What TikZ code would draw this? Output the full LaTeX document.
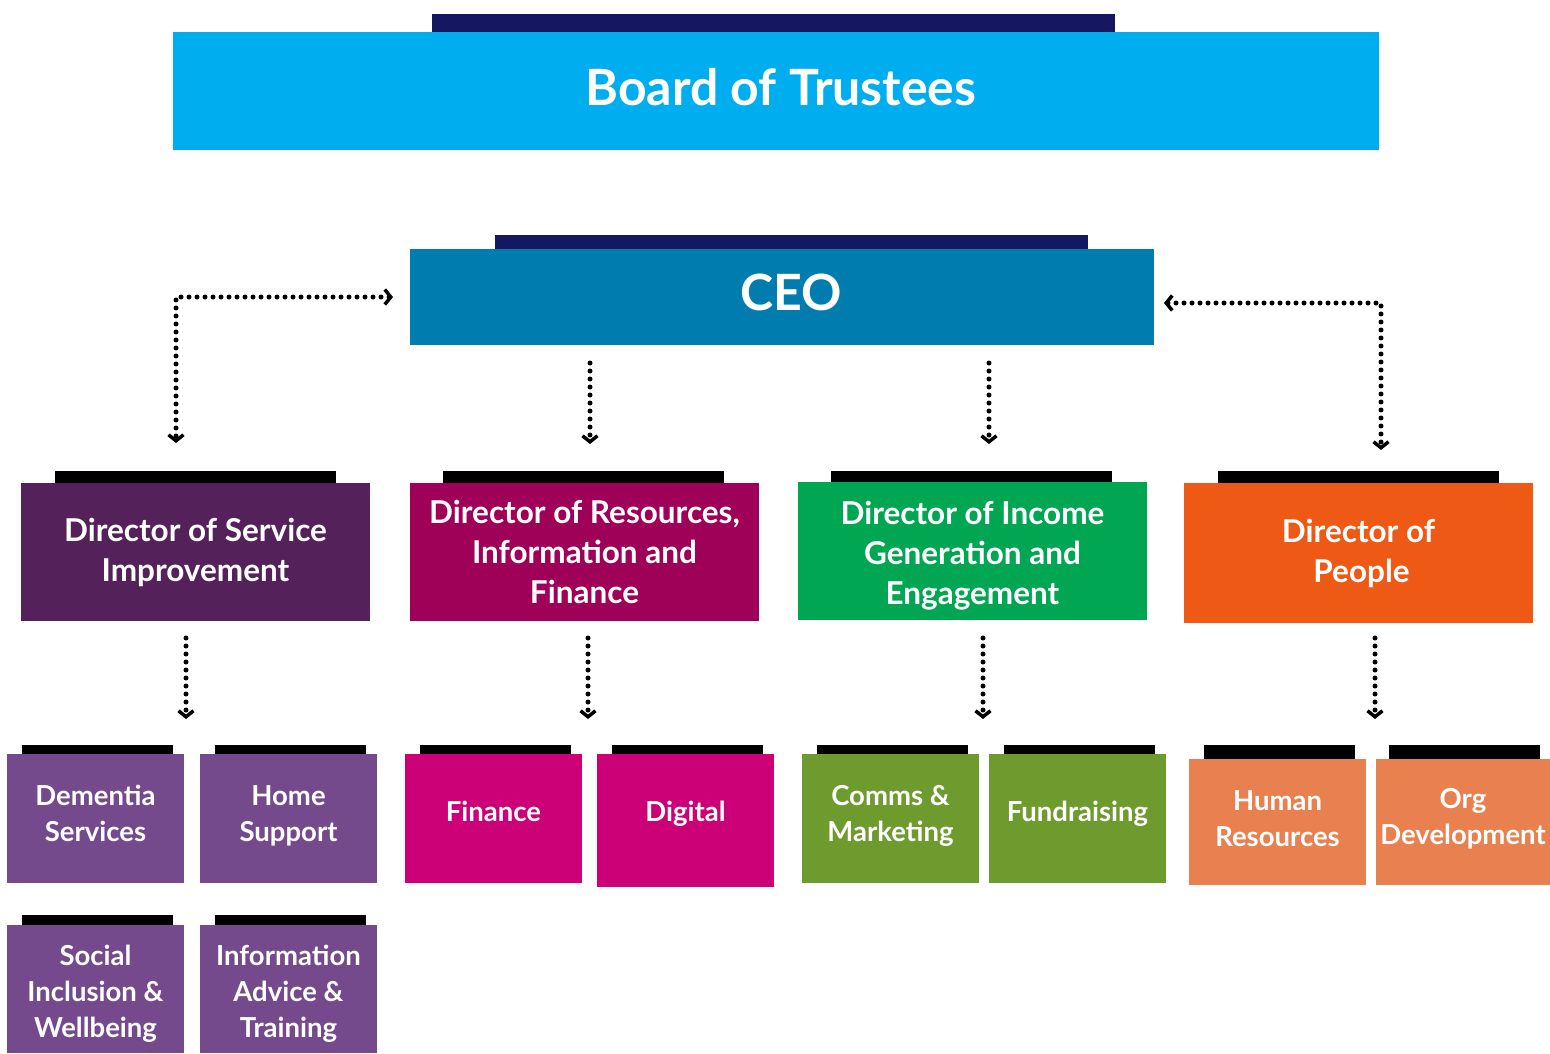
\documentclass[tikz,border=0pt]{standalone}
\usepackage{fontspec}
\setmainfont{Lato}
\usetikzlibrary{arrows.meta}
\definecolor{navy}{HTML}{151860}
\definecolor{boardc}{HTML}{00AEEF}
\definecolor{ceoc}{HTML}{007DAE}
\definecolor{dpurple}{HTML}{55215B}
\definecolor{dmagenta}{HTML}{9F0058}
\definecolor{dgreen}{HTML}{00A651}
\definecolor{dorange}{HTML}{EE5A16}
\definecolor{spurple}{HTML}{744A8C}
\definecolor{smagenta}{HTML}{CC0077}
\definecolor{sgreen}{HTML}{6E9B2E}
\definecolor{sorange}{HTML}{E8804F}
\newcommand\mydepth[1]{\rule[-#1]{0pt}{#1}}
\newcommand\myheight[1]{\rule{0pt}{#1}}
\begin{document}
\begin{tikzpicture}[x=1pt,y=-1pt,
  rect/.style={anchor=north west, inner sep=0pt, outer sep=0pt, draw=none, text=white, align=center},
  barbox/.style={rect, fill=#1},
  titlefont/.style={font=\bfseries\fontsize{50}{56}\selectfont},
  dirfont/.style={font=\bfseries\fontsize{31.5}{40}\selectfont},
  subfont/.style={font=\bfseries\fontsize{27.5}{36}\selectfont},
  barb/.tip={Straight Barb[length=6pt,width=15pt,line width=3.5pt]},
  dots/.style={line width=5pt, dash pattern=on 0pt off 8pt, line cap=round, black, barb-barb},
  dotd/.style={line width=5pt, dash pattern=on 0pt off 8pt, line cap=round, black, -barb}
]
\useasboundingbox (0,0) rectangle (1550,1053);
% Board
\node[barbox=navy, minimum width=683pt, minimum height=19pt] (boardbar) at (432,14) {};
\node[barbox=boardc, minimum width=1206pt, minimum height=118pt, titlefont] (board) at (173,32) {\hspace*{10pt}Board of Trustees\mydepth{8pt}};
% CEO
\node[barbox=navy, minimum width=593pt, minimum height=15pt] (ceobar) at (495,235) {};
\node[barbox=ceoc, minimum width=744pt, minimum height=96pt, titlefont] (ceo) at (410,249) {\hspace*{18pt}CEO\mydepth{10pt}};
% Directors
\node[barbox=black, minimum width=281pt, minimum height=13pt] (d1bar) at (55,471) {};
\node[barbox=dpurple, minimum width=349pt, minimum height=138pt, dirfont] (d1) at (21,483) {Director of Service\\Improvement};
\node[barbox=black, minimum width=281pt, minimum height=13pt] (d2bar) at (443,471) {};
\node[barbox=dmagenta, minimum width=349pt, minimum height=138pt, dirfont] (d2) at (410,483) {Director of Resources,\\Information and\\Finance};
\node[barbox=black, minimum width=281pt, minimum height=12pt] (d3bar) at (831,471) {};
\node[barbox=dgreen, minimum width=349pt, minimum height=138pt, dirfont] (d3) at (798,482) {\myheight{32pt}Director of Income\\Generation and\\Engagement};
\node[barbox=black, minimum width=281pt, minimum height=13pt] (d4bar) at (1218,471) {};
\node[barbox=dorange, minimum width=349pt, minimum height=140pt, dirfont] (d4) at (1184,483) {Director of\\\hspace*{6pt}People};
% Sub units row 1
\node[barbox=black, minimum width=151pt, minimum height=10pt] (s1bar) at (22,745) {};
\node[barbox=spurple, minimum width=177pt, minimum height=129pt, subfont] (s1) at (7,754) {Dementia\\Services\mydepth{10pt}};
\node[barbox=black, minimum width=151pt, minimum height=10pt] (s2bar) at (215,745) {};
\node[barbox=spurple, minimum width=177pt, minimum height=129pt, subfont] (s2) at (200,754) {Home\\Support\mydepth{10pt}};
\node[barbox=black, minimum width=151pt, minimum height=10pt] (s3bar) at (420,745) {};
\node[barbox=smagenta, minimum width=177pt, minimum height=129pt, subfont] (s3) at (405,754) {Finance\mydepth{14pt}};
\node[barbox=black, minimum width=151pt, minimum height=10pt] (s4bar) at (612,745) {};
\node[barbox=smagenta, minimum width=177pt, minimum height=133pt, subfont] (s4) at (597,754) {Digital\mydepth{19pt}};
\node[barbox=black, minimum width=151pt, minimum height=10pt] (s5bar) at (817,745) {};
\node[barbox=sgreen, minimum width=177pt, minimum height=129pt, subfont] (s5) at (802,754) {Comms \&\\Marketing\mydepth{11pt}};
\node[barbox=black, minimum width=151pt, minimum height=10pt] (s6bar) at (1004,745) {};
\node[barbox=sgreen, minimum width=177pt, minimum height=129pt, subfont] (s6) at (989,754) {Fundraising\mydepth{15pt}};
\node[barbox=black, minimum width=151pt, minimum height=14pt] (s7bar) at (1204,745) {};
\node[barbox=sorange, minimum width=177pt, minimum height=126pt, subfont] (s7) at (1189,759) {Human\\Resources\mydepth{6pt}};
\node[barbox=black, minimum width=151pt, minimum height=14pt] (s8bar) at (1389,745) {};
\node[barbox=sorange, minimum width=174pt, minimum height=126pt, subfont] (s8) at (1376,759) {Org\\Development\mydepth{11pt}};
% Sub units row 2
\node[barbox=black, minimum width=151pt, minimum height=10pt] (s9bar) at (22,915) {};
\node[barbox=spurple, minimum width=177pt, minimum height=128pt, subfont] (s9) at (7,925) {\myheight{30pt}Social\\Inclusion \&\\Wellbeing};
\node[barbox=black, minimum width=151pt, minimum height=10pt] (s10bar) at (215,915) {};
\node[barbox=spurple, minimum width=177pt, minimum height=128pt, subfont] (s10) at (200,925) {\myheight{30pt}Information\\Advice \&\\Training};
% connector end points
\coordinate (lc) at (176,297);
\coordinate (lceo) at (393,297);
\coordinate (ld1) at (176,443);
\coordinate (rc) at (1381,303);
\coordinate (rceo) at (1164,303);
\coordinate (rd4) at (1381,450);
\coordinate (m2a) at (590,363);
\coordinate (m2b) at (590,444);
\coordinate (m3a) at (989,363);
\coordinate (m3b) at (989,444);
\coordinate (u1a) at (186,638);
\coordinate (u1b) at (186,719);
\coordinate (u2a) at (588,638);
\coordinate (u2b) at (588,719);
\coordinate (u3a) at (983,638);
\coordinate (u3b) at (983,719);
\coordinate (u4a) at (1375,638);
\coordinate (u4b) at (1375,719);
\draw[dots] (lceo) -- (lc) -- (ld1);
\draw[dots] (rceo) -- (rc) -- (rd4);
\draw[dotd] (m2a) -- (m2b);
\draw[dotd] (m3a) -- (m3b);
\draw[dotd] (u1a) -- (u1b);
\draw[dotd] (u2a) -- (u2b);
\draw[dotd] (u3a) -- (u3b);
\draw[dotd] (u4a) -- (u4b);
\end{tikzpicture}
\end{document}
